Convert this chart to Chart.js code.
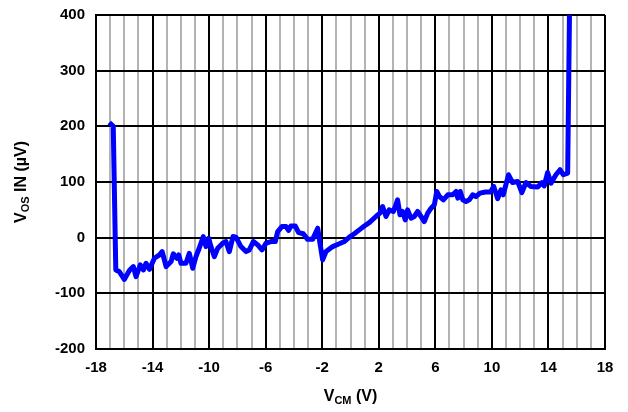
<!DOCTYPE html>
<html>
<head>
<meta charset="utf-8">
<script src="https://cdn.jsdelivr.net/npm/chart.js@4/dist/chart.umd.min.js"></script>
<style>
  html, body { margin: 0; padding: 0; background: #fff; }
  #wrap { width: 628px; height: 412px; }
</style>
</head>
<body>
<div id="wrap"><canvas id="vosChart" width="628" height="412"></canvas></div>
<script>
// common mode voltage (V)
const vcm = [
  -17.06, -16.78, -16.6, -16.35, -16.0, -15.64, -15.36, -15.17, -14.87, -14.65,
  -14.46, -14.22, -13.87, -13.51, -13.32, -13.04, -12.69, -12.53, -12.29, -12.15,
  -11.99, -11.64, -11.4, -11.16, -10.93, -10.7, -10.41, -10.22, -10.03, -9.87,
  -9.63, -9.39, -9.04, -8.81, -8.57, -8.31, -8.1, -7.75, -7.39, -7.16,
  -6.87, -6.56, -6.26, -5.98, -5.62, -5.32, -5.15, -4.85, -4.56, -4.38,
  -4.21, -3.91, -3.67, -3.34, -3.03, -2.68, -2.32, -2.16, -1.97, -1.73,
  -1.26, -0.79, -0.44, -0.08, 0.27, 0.62, 0.98, 1.33, 1.8, 2.08,
  2.27, 2.51, 2.74, 3.03, 3.17, 3.33, 3.5, 3.68, 3.87, 4.04,
  4.28, 4.51, 4.75, 4.99, 5.22, 5.46, 5.7, 5.93, 6.1, 6.29,
  6.57, 6.88, 7.24, 7.47, 7.59, 7.76, 7.94, 8.17, 8.4, 8.64,
  8.87, 9.16, 9.55, 9.9, 10.13, 10.41, 10.64, 10.8, 11.18, 11.46,
  11.82, 12.12, 12.41, 12.76, 13.24, 13.54, 13.7, 13.94, 14.18, 14.53,
  14.82, 15.05, 15.36, 15.5
];
// input offset voltage (uV)
const vosIn = [
  207, 200, -58, -61, -75, -59, -52, -70, -49, -58,
  -46, -57, -37, -31, -25, -52, -43, -29, -37, -31,
  -46, -46, -28, -55, -34, -19, 2, -16, -1, -16,
  -34, -19, -10, -7, -25, 2, 1, -16, -25, -22,
  -7, -13, -22, -10, -7, -7, 11, 20, 20, 13,
  21, 21, 9, 7, -3, -3, 17, -10, -40, -25,
  -16, -11, -7, 1, 7, 14, 21, 27, 38, 44,
  56, 38, 50, 47, 56, 68, 41, 47, 32, 50,
  35, 38, 47, 38, 29, 44, 53, 59, 83, 74,
  68, 77, 77, 83, 71, 83, 68, 65, 68, 77,
  74, 80, 82, 82, 92, 70, 86, 77, 113, 99,
  101, 81, 99, 92, 91, 99, 93, 117, 98, 113,
  122, 113, 116, 430
];

const xMin = -18, xMax = 18, xLabelStep = 4;
const yMin = -200, yMax = 400, yStep = 100;

const points = vcm.map((v, i) => ({ x: v, y: vosIn[i] }));
const font = 'Arial, "Liberation Sans", sans-serif';

// helper to write "V" + subscript + rest, centred on cx
function drawSub(c, main, sub, rest, cx, cy) {
  const big = 'bold 16px ' + font;
  const small = 'bold 11px ' + font;
  c.font = big;
  const w1 = c.measureText(main).width;
  const w3 = c.measureText(rest).width;
  c.font = small;
  const w2 = c.measureText(sub).width;
  let x = cx - (w1 + w2 + w3) / 2;
  c.textAlign = 'left';
  c.textBaseline = 'middle';
  c.font = big; c.fillText(main, x, cy); x += w1;
  c.font = small; c.fillText(sub, x, cy + 4); x += w2;
  c.font = big; c.fillText(rest, x, cy);
}

// axis titles with subscripts
const axisTitles = {
  id: 'axisTitles',
  afterDraw(chart) {
    const c = chart.ctx;
    const area = chart.chartArea;
    c.save();
    c.fillStyle = '#000';
    drawSub(c, 'V', 'CM', ' (V)', (area.left + area.right) / 2, 397);
    c.translate(22, (area.top + area.bottom) / 2);
    c.rotate(-Math.PI / 2);
    drawSub(c, 'V', 'OS', ' IN (µV)', 0, 0);
    c.restore();
  }
};

const isMajor = v => Math.abs((v - xMin) % xLabelStep) < 1e-6;

new Chart(document.getElementById('vosChart'), {
  type: 'line',
  data: {
    datasets: [{
      data: points,
      borderColor: '#0000ff',
      borderWidth: 5,
      borderJoinStyle: 'round',
      pointRadius: 0,
      tension: 0,
      fill: false
    }]
  },
  options: {
    responsive: false,
    animation: false,
    layout: { padding: { left: 0, right: 23, top: 15, bottom: 0 } },
    plugins: { legend: { display: false }, tooltip: { enabled: false } },
    scales: {
      x: {
        type: 'linear',
        min: xMin,
        max: xMax,
        afterFit: s => { s.height = 63; },
        border: { color: '#000', width: 2 },
        grid: {
          drawTicks: false,
          color: ctx => isMajor(ctx.tick.value) ? '#000' : '#b3b3b3',
          lineWidth: 2
        },
        ticks: {
          stepSize: 1,
          autoSkip: false,
          maxRotation: 0,
          padding: 10,
          color: '#000',
          font: { family: font, size: 15, weight: 'bold' },
          callback: v => isMajor(v) ? String(v) : ''
        }
      },
      y: {
        min: yMin,
        max: yMax,
        afterFit: s => { s.width = 96; s.paddingTop = 0; s.paddingBottom = 0; },
        border: { color: '#000', width: 2 },
        grid: { drawTicks: false, color: '#000', lineWidth: 2 },
        ticks: {
          stepSize: yStep,
          padding: 11,
          color: '#000',
          font: { family: font, size: 15, weight: 'bold' }
        }
      }
    }
  },
  plugins: [axisTitles]
});
</script>
</body>
</html>
